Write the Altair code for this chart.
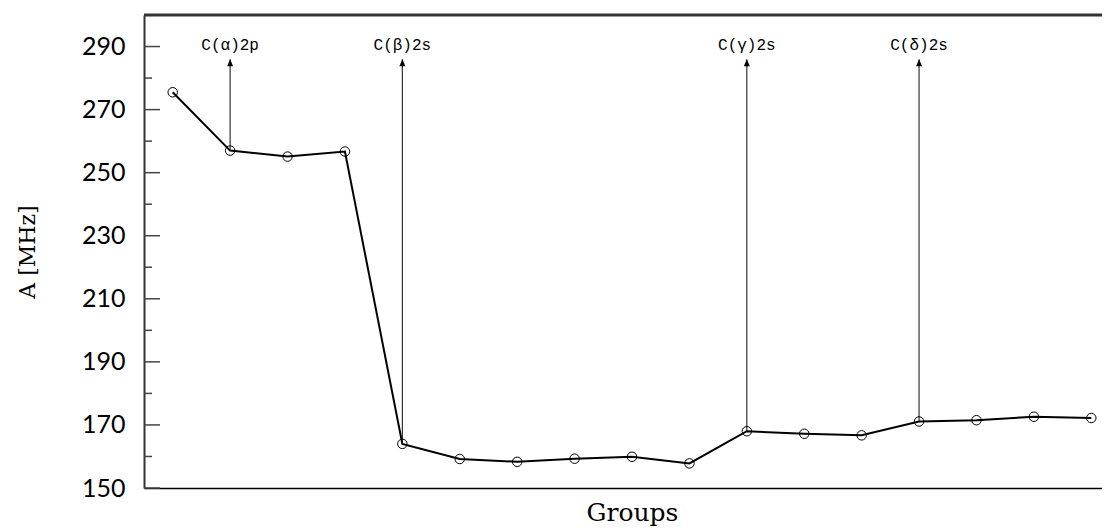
import altair as alt
import pandas as pd

# ---- data ----
groups = list(range(17))
values = [275.5, 257.0, 255.1, 256.7, 164.0, 159.2, 158.3, 159.3, 159.9,
          157.8, 168.0, 167.2, 166.7, 171.1, 171.5, 172.6, 172.2]

ann_groups = [1, 4, 10, 13]
ann_labels = ["C(α)2p", "C(β)2s", "C(γ)2s", "C(δ)2s"]
ann_values = [values[i] for i in ann_groups]
arrow_top = [286.0] * 4
label_level = [290.6] * 4

major_ticks = [150, 170, 190, 210, 230, 250, 270, 290]
minor_ticks = [160, 180, 200, 220, 240, 260, 280]

W, H = 958, 473      # visible plot width (page edge); scale runs to XR
XR = 976

df = pd.DataFrame({"g": groups, "v": values})
ann = pd.DataFrame({"g": ann_groups, "v": ann_values, "top": arrow_top,
                    "lab": label_level, "text": ann_labels})
maj = pd.DataFrame({"t": major_ticks})
mnr = pd.DataFrame({"t": minor_ticks})
one = pd.DataFrame({"a": [0]})

xs = alt.Scale(domain=[-0.5, 16.5], range=[0, XR], nice=False, zero=False)
ys = alt.Scale(domain=[150, 300], nice=False, zero=False)

x_enc = alt.X("g:Q", scale=xs, axis=alt.Axis(
    title="Groups", ticks=False, labels=False, grid=False,
    domainColor="black", domainWidth=1.5,
    titleFont="DejaVu Serif", titleFontSize=25, titleFontWeight="normal",
    titleColor="black", titlePadding=12, titleX=488, titleAlign="center"))
y_enc = alt.Y("v:Q", scale=ys, axis=alt.Axis(
    title="A [MHz]", values=major_ticks, ticks=False, grid=False,
    labelPadding=19, labelFont="Lato", labelFontSize=25, labelFontWeight="normal",
    labelColor="black",
    domainColor="#333", domainWidth=2,
    titleFont="DejaVu Serif", titleFontSize=22, titleFontWeight="normal",
    titleColor="black", titlePadding=42))

line = alt.Chart(df).mark_line(color="black", strokeWidth=2).encode(x=x_enc, y=y_enc)
pts = alt.Chart(df).mark_point(shape="circle", filled=False, size=90,
                               stroke="black", strokeWidth=1, opacity=1).encode(
    x=alt.X("g:Q", scale=xs), y=alt.Y("v:Q", scale=ys))

arrows = alt.Chart(ann).mark_rule(color="#222", strokeWidth=1.1).encode(
    x=alt.X("g:Q", scale=xs),
    y=alt.Y("v:Q", scale=ys), y2="top:Q")
heads = alt.Chart(ann).mark_point(shape="M0,0L-0.75,1.75L0.75,1.75Z", filled=True,
                                  size=64, color="black", opacity=1).encode(
    x=alt.X("g:Q", scale=xs), y=alt.Y("top:Q", scale=ys))
labels = alt.Chart(ann).mark_text(font="Liberation Mono", fontSize=16, color="black",
                                  align="center", baseline="middle").encode(
    x=alt.X("g:Q", scale=xs), y=alt.Y("lab:Q", scale=ys),
    text="text:N")

tick_style = dict(color="#444", strokeWidth=1.5)
lmaj = alt.Chart(maj).mark_rule(**tick_style).encode(
    y=alt.Y("t:Q", scale=ys), x=alt.value(0), x2=alt.value(16))
lmin = alt.Chart(mnr).mark_rule(**tick_style).encode(
    y=alt.Y("t:Q", scale=ys), x=alt.value(0), x2=alt.value(8))
rmaj = alt.Chart(maj).mark_rule(**tick_style).encode(
    y=alt.Y("t:Q", scale=ys), x=alt.value(XR - 16), x2=alt.value(XR))

top_border = alt.Chart(one).mark_rule(color="#333", strokeWidth=3).encode(
    x=alt.value(0), x2=alt.value(XR), y=alt.value(0))

chart = alt.layer(line, lmaj, lmin, rmaj, top_border,
                  arrows, heads, labels, pts).properties(
    width=W, height=H,
    autosize=alt.AutoSizeParams(type="none"),
    padding={"left": 136, "top": 7, "right": 0, "bottom": 43},
    background="white",
).configure_view(stroke=None)

chart.save("out.html", embed_options={"renderer": "svg", "actions": False})
